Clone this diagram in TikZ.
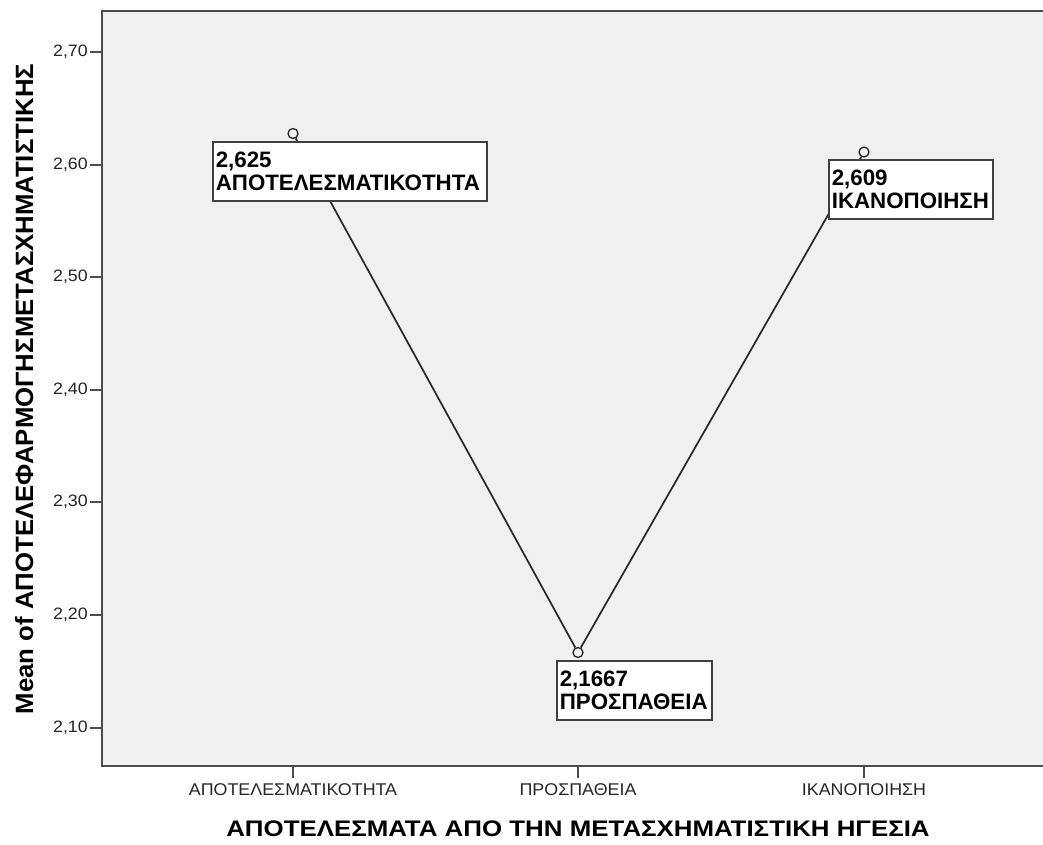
\documentclass[tikz,border=0pt]{standalone}
\usepackage{fontspec}
\setmainfont{Liberation Sans}
\begin{document}
\begin{tikzpicture}[x=1pt,y=-1pt,
  ticklab/.style={font=\fontsize{16.5}{18}\selectfont, text=black!85, inner sep=0pt},
  cattick/.style={font=\fontsize{17}{18}\selectfont, text=black!85, inner sep=0pt},
  axtitle/.style={font=\bfseries\fontsize{22.5}{24}\selectfont, inner sep=0pt},
  datalabel/.style={draw=black!75, line width=1.6pt, fill=white, anchor=north west, align=left,
     font=\bfseries\fontsize{22.3}{23}\selectfont, inner xsep=3pt, inner ysep=2pt},
  marker/.style={circle, draw=black!85, line width=1.3pt, fill=black!6, minimum size=10pt, inner sep=0pt},
  meanline/.style={draw=black!85, line width=1.7pt},
  axisline/.style={draw=black!70, line width=1.8pt}
]
\useasboundingbox (0,0) rectangle (1043,844);
\fill[white] (0,0) rectangle (1043,844);
% panel
\fill[black!6] (102,11) rectangle (1050,766);
\draw[axisline] (1050,11) -- (102,11) -- (102,766) -- (1050,766);
% y ticks
\foreach \v/\yy in {{2,70}/52, {2,60}/165, {2,50}/277, {2,40}/390, {2,30}/502, {2,20}/615, {2,10}/728} {
  \draw[axisline, line width=1.5pt] (90,\yy) -- (102,\yy);
  \node[ticklab, anchor=east] (yt\yy) at (88,\yy) {\scalebox{1.08}[1]{\v}};
}
% x ticks
\foreach \xx/\lab/\nm in {293/ΑΠΟΤΕΛΕΣΜΑΤΙΚΟΤΗΤΑ/a, 578/ΠΡΟΣΠΑΘΕΙΑ/b, 864/ΙΚΑΝΟΠΟΙΗΣΗ/c} {
  \draw[axisline, line width=1.5pt] (\xx,766) -- (\xx,778);
  \node[cattick, anchor=base] (xt\nm) at (\xx,795) {\scalebox{1.05}[1]{\lab}};
}
% axis titles
\node[axtitle, anchor=base] (xtitle) at (578,836) {\scalebox{1.15}[1]{ΑΠΟΤΕΛΕΣΜΑΤΑ ΑΠΟ ΤΗΝ ΜΕΤΑΣΧΗΜΑΤΙΣΤΙΚΗ ΗΓΕΣΙΑ}};
\node[axtitle, font=\bfseries\fontsize{25}{26}\selectfont, rotate=90, anchor=base] (ytitle) at (33,389) {\scalebox{1.03}[1]{Mean of ΑΠΟΤΕΛΕΦΑΡΜΟΓΗΣΜΕΤΑΣΧΗΜΑΤΙΣΤΙΚΗΣ}};
% points
\node[marker] (p1) at (293,133.5) {};
\node[marker] (p2) at (578,652.5) {};
\node[marker] (p3) at (864,152) {};
\draw[meanline] (p1) -- (p2) -- (p3);
% labels
\node[datalabel, text width=268pt, minimum height=59pt] (l1) at (212,141) {2,625\\ΑΠΟΤΕΛΕΣΜΑΤΙΚΟΤΗΤΑ};
\node[datalabel, text width=149pt, minimum height=59pt] (l2) at (556,660) {2,1667\\ΠΡΟΣΠΑΘΕΙΑ};
\node[datalabel, text width=158pt, minimum height=59pt] (l3) at (828,159) {2,609\\ΙΚΑΝΟΠΟΙΗΣΗ};
\end{tikzpicture}
\end{document}
